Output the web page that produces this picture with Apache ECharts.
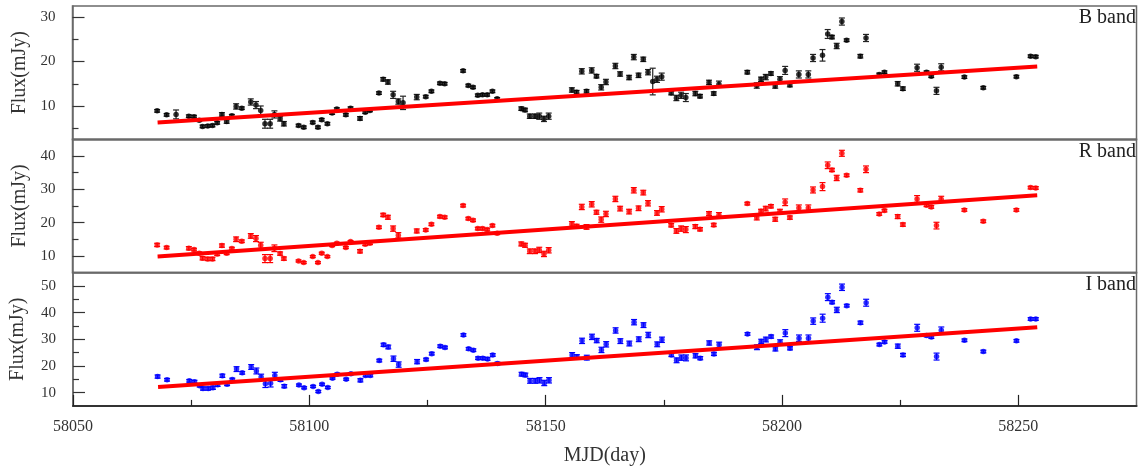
<!DOCTYPE html>
<html>
<head>
<meta charset="utf-8">
<script src="https://cdn.jsdelivr.net/npm/echarts@6/dist/echarts.min.js"></script>
<style>
  html, body { margin: 0; background: #fff; }
  #chart { width: 1141px; height: 472px; }
</style>
</head>
<body>
<div id="chart"></div>
<script>
// observation dates (MJD)
const mjd = [
  58067.9,58069.9,58071.9,58074.6,58075.7,58076.8,58077.5,58078.6,58079.6,58080.6,
  58081.6,58082.6,58083.7,58084.6,58085.8,58087.7,58088.8,58089.8,58090.7,58091.8,
  58092.7,58093.9,58094.7,58097.8,58098.9,58100.8,58101.9,58102.7,58103.9,58104.9,
  58105.9,58107.8,58108.8,58110.8,58111.9,58112.9,58114.8,58115.7,58116.7,58117.8,
  58118.9,58119.9,58122.8,58124.7,58125.9,58127.7,58128.7,58132.6,58133.7,58134.7,
  58135.7,58136.7,58137.7,58138.8,58139.8,58144.9,58145.7,58146.7,58147.8,58148.7,
  58149.7,58150.7,58155.6,58156.6,58157.7,58158.7,58159.8,58160.8,58161.8,58162.8,
  58164.8,58165.8,58167.7,58168.7,58169.7,58170.7,58171.7,58172.7,58173.6,58174.6,
  58176.6,58177.7,58178.7,58179.7,58181.7,58182.7,58184.6,58185.6,58186.7,58192.7,
  58194.7,58195.6,58196.6,58197.7,58198.6,58199.6,58200.7,58201.7,58203.6,58205.6,
  58206.6,58208.6,58209.7,58210.6,58211.6,58212.7,58213.7,58216.6,58217.8,58220.6,
  58221.7,58224.5,58225.6,58228.6,58230.6,58231.6,58232.7,58233.7,58238.6,58242.6,
  58249.6,58252.6,58253.7
];

// flux in mJy
const fluxB = [
  8.9,8.0,8.1,7.7,7.6,6.8,5.4,5.5,5.6,6.2,
  8.1,6.5,7.8,9.9,9.5,10.9,10.2,9.0,6.0,6.0,
  8.1,7.1,6.0,5.6,5.2,6.3,5.2,6.9,6.0,8.4,
  9.3,8.0,9.5,7.2,8.6,9.0,12.9,16.0,15.4,12.5,
  11.0,10.7,12.0,12.1,13.3,15.1,15.0,17.9,14.6,14.2,
  12.4,12.5,12.5,13.3,11.6,9.4,9.1,7.7,7.7,7.7,
  7.1,7.7,13.6,13.1,17.8,13.3,18.0,16.7,14.2,15.4,
  19.0,17.2,16.4,21.0,16.9,20.5,17.6,15.5,16.0,16.6,
  12.9,11.8,12.4,11.9,12.8,12.2,15.3,12.8,14.9,17.6,
  14.6,16.0,16.5,17.3,14.5,16.0,18.0,14.7,17.1,17.1,
  20.8,21.4,26.2,25.5,23.5,29.0,24.8,21.2,25.3,17.1,
  17.6,15.0,13.9,18.6,17.6,16.7,13.4,18.7,16.5,14.1,
  16.6,21.2,21.1
];
const errB = [
  .3,.3,1.0,.3,.3,.3,.3,.3,.3,.3,
  .4,.4,.3,.6,.3,.7,.8,1.0,1.0,1.0,
  .8,.5,.5,.3,.3,.3,.3,.3,.3,.3,
  .3,.3,.3,.4,.3,.3,.3,.4,.5,.8,
  .6,1.5,.6,.3,.3,.3,.3,.3,.3,.3,
  .3,.3,.3,.3,.3,.4,.4,.5,.5,.7,
  .6,.7,.5,.4,.6,.4,.6,.4,.6,.6,
  .6,.5,.5,.6,.5,.5,.6,3.0,.7,.8,
  .4,.6,.7,.9,.5,.4,.5,.4,.7,.4,
  .6,.5,.6,.4,.5,.6,.9,.4,.8,.8,
  .8,1.3,1.0,.4,.6,.8,.3,.4,.8,.3,
  .3,.5,.4,.8,.3,.3,.8,.8,.3,.3,
  .3,.3,.3
];

const fluxR = [
  13.3,12.5,null,12.3,11.9,10.8,9.3,9.1,9.1,10.6,
  13.1,10.8,12.2,15.0,14.4,16.0,15.2,13.2,9.2,9.2,
  12.3,10.7,9.2,8.5,8.0,9.8,8.0,10.8,9.8,13.1,
  13.8,12.5,14.3,11.4,13.5,13.8,18.6,22.3,21.6,18.2,
  16.2,null,17.5,17.8,19.5,21.8,21.6,25.1,21.2,20.7,
  18.2,18.2,17.9,19.1,16.8,13.6,13.2,11.4,11.4,11.8,
  10.6,11.7,19.6,18.9,24.7,18.7,25.5,23.1,20.9,22.6,
  27.1,24.2,23.3,29.7,24.3,29.0,25.8,null,22.9,24.0,
  19.2,17.5,18.2,17.9,18.8,18.0,22.7,19.3,22.2,25.7,
  21.5,23.4,24.2,24.9,21.0,23.3,26.1,21.5,24.4,24.4,
  29.8,30.8,37.2,35.8,33.4,40.8,34.2,29.7,36.0,22.6,
  23.6,21.8,19.4,27.1,25.2,24.7,19.1,27.0,23.8,20.4,
  23.8,30.5,30.4
];
const errR = [
  .5,.4,0,.5,.4,.4,.5,.5,.5,.5,
  .5,.4,.4,.7,.4,.7,.9,.9,1.2,1.2,
  1.0,.5,.5,.3,.3,.3,.3,.3,.3,.3,
  .3,.3,.3,.5,.4,.4,.4,.5,.6,.8,
  .8,0,.6,.4,.4,.4,.4,.4,.4,.4,
  .4,.4,.4,.4,.4,.6,.6,.7,.7,.8,
  .8,.8,.7,.6,.8,.7,.8,.6,.8,.8,
  .8,.7,.7,.8,.7,.7,.8,0,.7,.8,
  .5,.7,.8,.9,.6,.5,.6,.5,.8,.4,
  .7,.6,.7,.5,.6,.7,1.0,.5,.9,.9,
  .9,1.2,1.0,.5,.8,.9,.4,.5,1.0,.4,
  .4,.6,.5,1.0,.4,.4,1.0,.9,.4,.4,
  .4,.4,.4
];

const fluxI = [
  16.0,14.8,null,14.4,14.1,12.6,11.5,11.5,11.8,12.9,
  16.3,13.1,14.9,18.8,17.4,19.6,18.1,15.8,13.3,13.5,
  16.4,14.8,12.4,12.8,11.8,12.3,10.4,13.1,11.9,15.4,
  16.9,15.0,17.1,14.6,16.4,16.4,22.0,27.9,27.1,22.7,
  20.5,null,21.6,22.4,24.6,27.4,26.9,31.6,26.4,25.9,
  22.9,22.9,22.6,24.1,20.9,16.9,16.6,14.4,14.4,14.6,
  13.6,14.6,24.1,23.4,29.4,23.1,30.9,29.5,26.0,28.1,
  33.3,29.3,28.4,36.4,30.0,35.3,31.6,null,28.1,29.8,
  24.1,22.1,23.1,23.0,23.8,22.9,28.6,24.5,27.9,32.0,
  27.0,29.2,29.9,31.0,26.4,28.9,32.3,26.6,30.4,30.4,
  36.8,37.9,45.8,43.9,41.0,49.5,42.6,36.2,43.7,28.0,
  29.0,27.4,24.1,34.3,31.4,30.8,23.5,33.4,29.6,25.4,
  29.4,37.6,37.6
];
const errI = [
  .6,.5,0,.5,.5,.5,.6,.6,.6,.6,
  .6,.5,.5,.9,.5,.9,1.1,1.1,1.4,1.4,
  1.2,.6,.6,.4,.4,.4,.4,.4,.4,.4,
  .4,.4,.4,.6,.5,.5,.5,.6,.7,1.0,
  1.0,0,.8,.5,.5,.5,.5,.5,.5,.5,
  .5,.5,.5,.5,.5,.7,.7,.9,.9,1.0,
  1.0,1.0,.9,.8,1.0,.9,1.0,.8,1.0,1.0,
  1.0,.9,.9,1.0,.9,.9,1.0,0,.9,1.0,
  .6,.9,1.0,1.1,.8,.6,.8,.6,1.0,.5,
  .9,.8,.9,.6,.8,.9,1.3,.6,1.2,1.2,
  1.2,1.5,1.3,.6,1.0,1.2,.5,.6,1.3,.5,
  .5,.8,.6,1.3,.5,.5,1.3,1.2,.5,.5,
  .5,.5,.5
];

// linear fits: endpoints
const fitMJD = [58068, 58254];
const fitB = [6.3, 18.9];
const fitR = [9.8, 28.2];
const fitI = [12.1, 34.5];

// axis ticks
const xMajor = [58050, 58100, 58150, 58200, 58250];
const xMinor = [58075, 58125, 58175, 58225];
const bandNames = ['B band', 'R band', 'I band'];

const FONT = 'Liberation Serif';
const chart = echarts.init(document.getElementById('chart'));

const panels = [
  { flux: fluxB, err: errB, fit: fitB, dot: '#000000', bar: '#222222', min: 2.5, max: 32.5,
    major: [10, 20, 30], minor: [5, 15, 25], gap: 34, top: 6 },
  { flux: fluxR, err: errR, fit: fitR, dot: '#ff0000', bar: '#ff0000', min: 5, max: 45,
    major: [10, 20, 30, 40], minor: [15, 25, 35], gap: 37, top: 139.3 },
  { flux: fluxI, err: errI, fit: fitI, dot: '#0000ff', bar: '#0000ff', min: 5, max: 55,
    major: [10, 20, 30, 40, 50], minor: [15, 25, 35, 45], gap: 45, top: 272.6 }
];

const grid = [], xAxis = [], yAxis = [], series = [], graphic = [];

panels.forEach((p, i) => {
  const last = i === panels.length - 1;
  grid.push({ left: 72.5, width: 1064, top: p.top, height: 133.3, show: true,
    borderColor: '#6a6a6a', borderWidth: 1.5, backgroundColor: 'transparent' });

  xAxis.push({
    type: 'value', gridIndex: i, min: 58050, max: 58275,
    axisLine: { show: true, lineStyle: { color: last ? '#333' : '#6a6a6a', width: last ? 2 : 1.5 } },
    axisTick: { show: last, inside: true, length: 11, customValues: xMajor, lineStyle: { color: '#222', width: 1.2 } },
    axisLabel: { show: last, customValues: xMajor, margin: 13, fontFamily: FONT, fontSize: 16, color: '#333',
      formatter: v => String(v) },
    splitLine: { show: false },
    name: last ? 'MJD(day)' : '', nameLocation: 'middle', nameGap: 40,
    nameTextStyle: { fontFamily: FONT, fontSize: 20, color: '#333' }
  });
  yAxis.push({
    type: 'value', gridIndex: i, min: p.min, max: p.max, position: 'left',
    axisLine: { show: true, lineStyle: { color: '#6a6a6a', width: 1.5 } },
    axisTick: { show: true, inside: true, length: 12, customValues: p.major, lineStyle: { color: '#333', width: 1.2 } },
    axisLabel: { customValues: p.major, margin: 17, fontFamily: FONT, fontSize: 15, color: '#333' },
    splitLine: { show: false },
    name: 'Flux(mJy)', nameLocation: 'middle', nameGap: p.gap, nameRotate: 90,
    nameTextStyle: { fontFamily: FONT, fontSize: 20, color: '#333' }
  });
  series.push(
    {
      type: 'custom', xAxisIndex: i, yAxisIndex: i * 2,
      data: mjd.map((m, k) => [m, p.flux[k], p.err[k]]).filter(d => d[1] != null),
      encode: { x: 0, y: 1 },
      renderItem: (params, api) => {
        const x = api.value(0), y = api.value(1), e = api.value(2);
        const lo = api.coord([x, y - e]);
        const hi = api.coord([x, y + e]);
        const w = 3;
        const st = { stroke: p.bar, lineWidth: 1.2 };
        return { type: 'group', children: [
          { type: 'line', shape: { x1: lo[0], y1: lo[1], x2: hi[0], y2: hi[1] }, style: st },
          { type: 'line', shape: { x1: lo[0] - w, y1: lo[1], x2: lo[0] + w, y2: lo[1] }, style: st },
          { type: 'line', shape: { x1: hi[0] - w, y1: hi[1], x2: hi[0] + w, y2: hi[1] }, style: st }
        ] };
      },
      z: 2
    },
    {
      type: 'scatter', xAxisIndex: i, yAxisIndex: i * 2,
      data: mjd.map((m, k) => [m, p.flux[k]]).filter(d => d[1] != null),
      symbolSize: 5.5, itemStyle: { color: p.dot }, z: 3
    },
    {
      type: 'line', xAxisIndex: i, yAxisIndex: i * 2,
      data: fitMJD.map((m, k) => [m, p.fit[k]]),
      showSymbol: false, symbol: 'none',
      lineStyle: { color: '#ff0000', width: 4 }, z: 4
    }
  );
  graphic.push({ type: 'text', right: 5, top: p.top + 2,
    style: { text: bandNames[i], font: '20px "' + FONT + '"', fill: '#222' } });
});

// minor ticks on separate axes
panels.forEach((p, i) => {
  yAxis.push({
    type: 'value', gridIndex: i, min: p.min, max: p.max, position: 'left', offset: 0,
    axisLine: { show: false },
    axisTick: { show: true, inside: true, length: 6, customValues: p.minor, lineStyle: { color: '#333', width: 1.2 } },
    axisLabel: { show: false }, splitLine: { show: false }
  });
});
// main y axes at indices 0,2,4; minor-tick axes at 1,3,5
const yMain = yAxis.slice(0, 3), yMinor = yAxis.slice(3);
const yAll = [];
for (let i = 0; i < 3; i++) { yAll.push(yMain[i], yMinor[i]); }

xAxis.push({
  type: 'value', gridIndex: 2, min: 58050, max: 58275, position: 'bottom', offset: 0,
  axisLine: { show: false },
  axisTick: { show: true, inside: true, length: 6, customValues: xMinor, lineStyle: { color: '#222', width: 1.2 } },
  axisLabel: { show: false }, splitLine: { show: false }
});

chart.setOption({
  animation: false,
  backgroundColor: '#fff',
  grid: grid,
  xAxis: xAxis,
  yAxis: yAll,
  series: series,
  graphic: graphic
});
</script>
</body>
</html>
